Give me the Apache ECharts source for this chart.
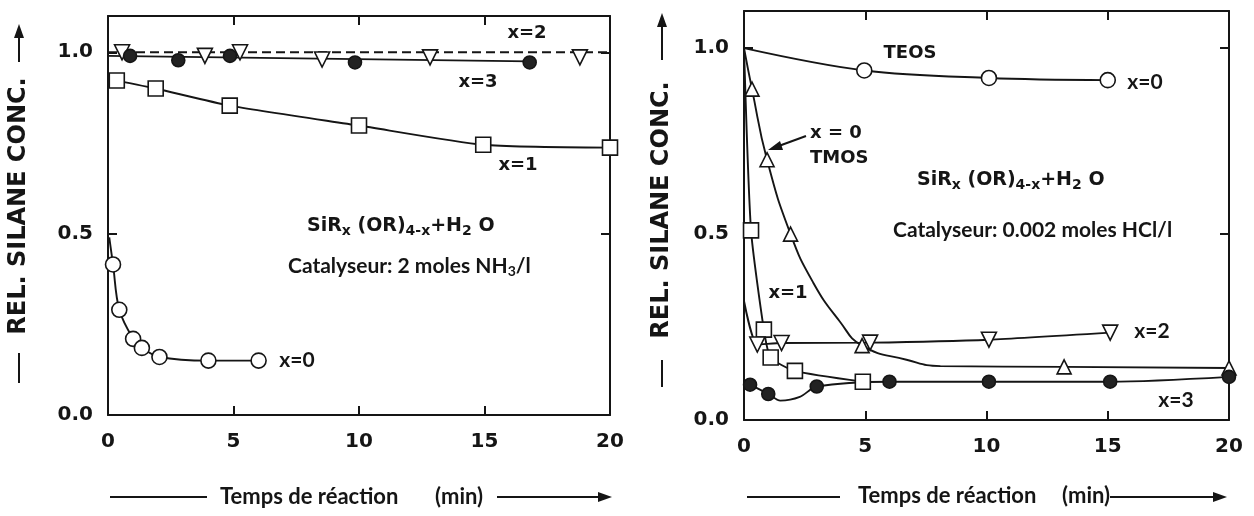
<!DOCTYPE html>
<html><head><meta charset="utf-8">
<script src="https://cdn.jsdelivr.net/npm/echarts@6/dist/echarts.min.js"></script>
<style>html,body{margin:0;padding:0;background:#fff}#c{width:1254px;height:516px}</style>
</head><body><div id="c"></div>
<script>
// ---------- axis ticks ----------
const xTicks = [0, 5, 10, 15, 20];
const yTickLabels = ['0.0', '0.5', '1.0'];

// ---------- left panel : NH3 catalyst ----------
const L0_t = [0.2, 0.45, 1.0, 1.35, 2.05, 4.0, 6.0];           // x=0, open circles
const L0_v = [0.415, 0.29, 0.21, 0.185, 0.16, 0.15, 0.15];
const L0_curve_t = [0.05];
const L0_curve_v = [0.49];
const L1_t = [0.35, 1.9, 4.85, 10, 14.95, 20];                 // x=1, squares
const L1_v = [0.922, 0.90, 0.853, 0.798, 0.745, 0.737];
const L2_t = [0.56, 3.86, 5.26, 8.53, 12.83, 18.8];            // x=2, down triangles
const L2_v = [1.0, 0.99, 1.0, 0.98, 0.986, 0.986];
const L2_line_t = [0, 20];
const L2_line_v = [1.0, 1.0];
const L3_t = [0.88, 2.8, 4.86, 9.84, 16.8];                     // x=3, filled circles
const L3_v = [0.99, 0.978, 0.99, 0.972, 0.972];
const L3_line_t = [0, 16.8];
const L3_line_v = [0.99, 0.975];

// ---------- right panel : HCl catalyst ----------
const RT_t = [4.96, 10.1, 15];                                  // TEOS x=0, open circles
const RT_v = [0.94, 0.92, 0.914];
const RT_curve_t = [0];
const RT_curve_v = [1.0];
const RM_t = [0.33, 0.95, 1.92, 4.87, 13.2, 20];                // TMOS x=0, up triangles
const RM_v = [0.89, 0.70, 0.50, 0.20, 0.143, 0.14];
const RM_curve_t = [0, 2.85, 3.95, 6.7, 8.1];
const RM_curve_v = [1.0, 0.37, 0.265, 0.162, 0.145];
const R1_t = [0.29, 0.82, 1.1, 2.1, 4.9];                       // x=1, squares
const R1_v = [0.51, 0.243, 0.168, 0.132, 0.103];
const R1_curve_t = [0];
const R1_curve_v = [1.0];
const R2_t = [0.55, 1.55, 5.2, 10.1, 15.1];                     // x=2, down triangles
const R2_v = [0.203, 0.207, 0.208, 0.216, 0.235];
const R2_curve_t = [0];
const R2_curve_v = [0.32];
const R3_t = [0.25, 1.0, 3.0, 6.0, 10.1, 15.1, 20];             // x=3, filled circles
const R3_v = [0.095, 0.07, 0.09, 0.103, 0.103, 0.103, 0.116];
const R3_curve_t = [1.5, 2.3];
const R3_curve_v = [0.052, 0.062];

// ---------- helpers ----------
const INK = '#151515';
function pairs(t, v) { return t.map((x, i) => [x, v[i]]); }
function merged(t, v, ct, cv) {
  return pairs(t, v).concat(pairs(ct || [], cv || [])).sort((a, b) => a[0] - b[0]);
}
function lineS(grid, data, opt) {
  return Object.assign({
    type: 'line', xAxisIndex: grid * 2, yAxisIndex: grid * 2, data: data,
    symbol: 'none', smooth: 0.35, z: 2, silent: true,
    lineStyle: { color: INK, width: 1.9 }
  }, opt || {});
}
function markS(grid, data, sym, filled, rot, size) {
  return {
    type: 'scatter', xAxisIndex: grid * 2, yAxisIndex: grid * 2, data: data, z: 5,
    symbol: sym, symbolSize: size || 15, symbolRotate: rot || 0, silent: true,
    itemStyle: { color: filled ? '#222' : '#fff', borderColor: INK, borderWidth: 1.6, opacity: 1 }
  };
}
function xAx(grid, pos) {
  return {
    type: 'value', gridIndex: grid, position: pos, min: 0, max: 20, interval: 5,
    axisLine: { show: true, onZero: false, lineStyle: { color: INK, width: 2 } },
    axisTick: { show: true, inside: true, length: 9, lineStyle: { color: INK, width: 2 } },
    axisLabel: {
      show: pos === 'bottom', margin: 17, color: INK, fontFamily: 'DejaVu Sans', fontWeight: 'bold', fontSize: 20,
      formatter: v => xTicks.indexOf(v) >= 0 ? String(v) : ''
    },
    splitLine: { show: false }
  };
}
function yAx(grid, pos) {
  return {
    type: 'value', gridIndex: grid, position: pos, min: 0, max: 1.1, interval: 0.5,
    axisLine: { show: true, onZero: false, lineStyle: { color: INK, width: 2 } },
    axisTick: { show: true, inside: true, length: 9, lineStyle: { color: INK, width: 2 } },
    axisLabel: {
      show: pos === 'left', showMaxLabel: false, margin: 15, color: INK, fontFamily: 'DejaVu Sans', fontWeight: 'bold', fontSize: 20,
      formatter: v => yTickLabels[Math.round(v / 0.5)] || ''
    },
    splitLine: { show: false }
  };
}
function txt(text, x, y, font, align) {
  return {
    type: 'text', z: 10, silent: true,
    style: { text: text, x: x, y: y, font: font, fill: INK, align: align || 'center', verticalAlign: 'middle' }
  };
}
function vtxt(text, x, y, font) {
  return {
    type: 'text', z: 10, silent: true, x: x, y: y, rotation: Math.PI / 2,
    style: { text: text, x: 0, y: 0, font: font, fill: INK, align: 'center', verticalAlign: 'middle' }
  };
}
function ln(x1, y1, x2, y2) {
  return { type: 'line', z: 10, silent: true, shape: { x1, y1, x2, y2 }, style: { stroke: INK, lineWidth: 2 } };
}
function head(x, y, dir) { // arrowhead tip at x,y
  const p = dir === 'up' ? [[x, y], [x - 5, y + 14], [x + 5, y + 14]] : [[x, y], [x - 14, y - 5], [x - 14, y + 5]];
  return { type: 'polygon', z: 10, silent: true, shape: { points: p }, style: { fill: INK } };
}
const LBL = 'bold 18px "DejaVu Sans"';
const CAL = 'bold 21px Lato';
const richF = {
  m: { fontFamily: 'DejaVu Sans', fontWeight: 'bold', fontSize: 19, fill: INK },
  s: { fontFamily: 'DejaVu Sans', fontWeight: 'bold', fontSize: 14, fill: INK, padding: [11, 0, 0, 0] }
};
const richC = {
  m: { fontFamily: 'Lato', fontWeight: 'bold', fontSize: 21, fill: INK },
  s: { fontFamily: 'Lato', fontWeight: 'bold', fontSize: 14, fill: INK, padding: [11, 0, 0, 0] }
};
function richTxt(text, x, y, rich) {
  return { type: 'text', z: 10, silent: true, style: { text: text, x: x, y: y, rich: rich, align: 'left', verticalAlign: 'middle' } };
}
const formula = '{m|SiR}{s|x}{m| (OR)}{s|4-x}{m|+H}{s|2}{m| O}';
const YT = 'bold 24px "DejaVu Sans"';
const XT = 'bold 22px Lato';

const option = {
  animation: false,
  backgroundColor: '#fff',
  grid: [
    { left: 108, top: 16, width: 502, height: 399 },
    { left: 744, top: 11, width: 485, height: 409 }
  ],
  xAxis: [xAx(0, 'bottom'), xAx(0, 'top'), xAx(1, 'bottom'), xAx(1, 'top')],
  yAxis: [yAx(0, 'left'), yAx(0, 'right'), yAx(1, 'left'), yAx(1, 'right')],
  series: [
    // left
    lineS(0, merged(L0_t, L0_v, L0_curve_t, L0_curve_v)),
    markS(0, pairs(L0_t, L0_v), 'circle', false),
    lineS(0, pairs(L1_t, L1_v), { smooth: 0.2 }),
    markS(0, pairs(L1_t, L1_v), 'rect', false),
    lineS(0, pairs(L2_line_t, L2_line_v), { smooth: false, lineStyle: { color: INK, width: 2, type: [9, 5] } }),
    markS(0, pairs(L2_t, L2_v), 'triangle', false, 180, 15),
    lineS(0, pairs(L3_line_t, L3_line_v), { smooth: false }),
    markS(0, pairs(L3_t, L3_v), 'circle', true, 0, 13),
    // right
    lineS(1, merged(RT_t, RT_v, RT_curve_t, RT_curve_v)),
    markS(1, pairs(RT_t, RT_v), 'circle', false),
    lineS(1, merged(RM_t, RM_v, RM_curve_t, RM_curve_v), { smooth: 0.5 }),
    markS(1, pairs(RM_t, RM_v), 'triangle', false, 0, 14),
    lineS(1, merged(R1_t, R1_v, R1_curve_t, R1_curve_v), { smooth: 0.2 }),
    markS(1, pairs(R1_t, R1_v), 'rect', false),
    lineS(1, merged(R2_t, R2_v, R2_curve_t, R2_curve_v), { smooth: 0.2 }),
    markS(1, pairs(R2_t, R2_v), 'triangle', false, 180, 15),
    lineS(1, merged(R3_t, R3_v, R3_curve_t, R3_curve_v), { smooth: 0.3 }),
    markS(1, pairs(R3_t, R3_v), 'circle', true, 0, 13)
  ],
  graphic: [
    // left panel labels
    txt('x=2', 527, 33, LBL), txt('x=3', 478, 82, LBL), txt('x=1', 518, 165, LBL),
    txt('x=0', 297, 360, CAL),
    richTxt(formula, 307, 226, richF),
    richTxt('{m|Catalyseur: 2 moles NH}{s|3}{m|/l}', 288, 266, richC),
    // right panel labels
    txt('TEOS', 910, 53, LBL), txt('x=0', 1145, 82, CAL),
    txt('x = 0', 810, 133, LBL, 'left'), txt('TMOS', 810, 158, LBL, 'left'),
    ln(806, 136, 776, 147),
    { type: 'polygon', z: 10, silent: true, shape: { points: [[768, 150], [780, 141], [783, 150]] }, style: { fill: INK } },
    richTxt(formula, 917, 180, richF),
    richTxt('{m|Catalyseur: 0.002 moles HCl/l}', 893, 230, richC),
    txt('x=1', 788, 293, LBL), txt('x=2', 1152, 331, CAL), txt('x=3', 1176, 400, CAL),
    // y-axis titles
    vtxt('REL. SILANE CONC.', 19, 206, YT),
    ln(19, 353, 19, 383), ln(19, 62, 19, 36), head(19, 24, 'up'),
    vtxt('REL. SILANE CONC.', 662, 210, YT),
    ln(662, 360, 662, 387), ln(662, 60, 662, 26), head(662, 13, 'up'),
    // x-axis titles
    ln(110, 497, 207, 497), txt('Temps de réaction', 220, 497, XT, 'left'),
    txt('(min)', 435, 497, XT, 'left'), ln(497, 497, 600, 497), head(612, 497, 'right'),
    ln(747, 497, 840, 497), txt('Temps de réaction', 858, 496, XT, 'left'),
    txt('(min)', 1062, 496, XT, 'left'), ln(1110, 497, 1215, 497), head(1227, 497, 'right')
  ]
};
const chart = echarts.init(document.getElementById('c'), null, { renderer: 'canvas' });
chart.setOption(option);
</script></body></html>
